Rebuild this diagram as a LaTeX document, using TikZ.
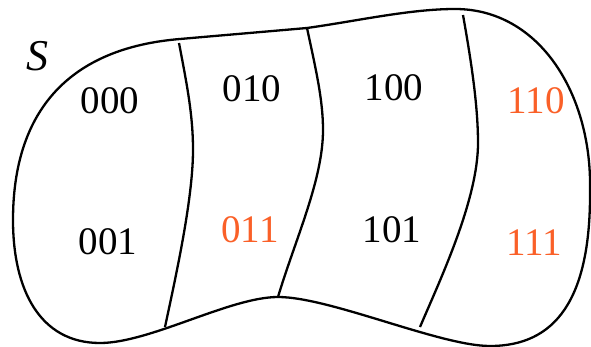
\documentclass[tikz,border=0pt]{standalone}
\usepackage{fontspec}
\setmainfont{Liberation Serif}
\definecolor{hot}{RGB}{250,96,40}
\begin{document}
\begin{tikzpicture}[x=1pt,y=-1pt,
  outline/.style={line width=2.3pt,line join=round},
  lbl/.style={inner sep=0pt,font=\fontsize{39}{40}\selectfont},
  hotlbl/.style={lbl,text=hot}]
\useasboundingbox (0,0) rectangle (591,347);
% outline
\coordinate (P0) at (13,220);
\coordinate (A) at (180,39);
\coordinate (M) at (307,28);
\coordinate (B) at (455,9);
\coordinate (R) at (590,190);
\coordinate (C) at (490,346);
\coordinate (D) at (278,297);
\coordinate (E) at (100,343);
\draw[outline] (P0) .. controls (13,110) and (70,48) .. (A)
  .. controls (220,35.5) and (267,31.5) .. (M)
  .. controls (357,21) and (410,9) .. (B)
  .. controls (540,9) and (592,95) .. (R)
  .. controls (591,300) and (555,346) .. (C)
  .. controls (440,346) and (330,297) .. (D)
  .. controls (230,297) and (150,343) .. (E)
  .. controls (40,343) and (13,290) .. cycle;
% dividers
\coordinate (d1t) at (179,43);
\coordinate (d1m) at (193,150);
\coordinate (d1b) at (165,327);
\coordinate (d2t) at (307,28);
\coordinate (d2m) at (323,130);
\coordinate (d2b) at (278,297);
\coordinate (d3t) at (463,15);
\coordinate (d3m) at (478,143);
\coordinate (d3b) at (420,327);
\draw[outline] (d1t) .. controls (187,85) and (193,115) .. (d1m)
  .. controls (193,200) and (175,280) .. (d1b);
\draw[outline] (d2t) .. controls (316,70) and (323,100) .. (d2m)
  .. controls (323,180) and (295,240) .. (d2b);
\draw[outline] (d3t) .. controls (471,60) and (478,105) .. (d3m)
  .. controls (478,200) and (440,280) .. (d3b);
\node[inner sep=0pt,font=\fontsize{44}{46}\selectfont\itshape] (S) at (37,56) {S};
\node[lbl] (n000) at (110,101) {000};
\node[lbl] (n010) at (252,89) {010};
\node[lbl] (n100) at (394,88) {100};
\node[hotlbl] (n110) at (536,101) {110};
\node[lbl] (n001) at (108,242) {001};
\node[hotlbl] (n011) at (250,230) {011};
\node[lbl] (n101) at (392,230) {101};
\node[hotlbl] (n111) at (534,243) {111};
\end{tikzpicture}
\end{document}
